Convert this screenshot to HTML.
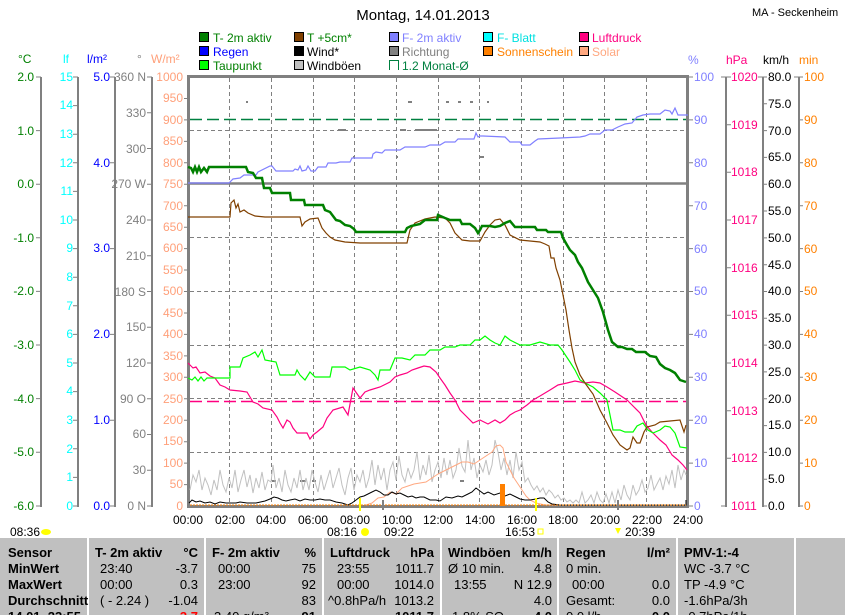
<!DOCTYPE html>
<html><head><meta charset="utf-8"><style>
html,body{margin:0;padding:0;background:#fff;width:845px;height:615px;overflow:hidden}
svg{display:block;font-family:"Liberation Sans",sans-serif;font-size:12px}
</style></head><body>
<svg width="845" height="615" viewBox="0 0 845 615" xmlns="http://www.w3.org/2000/svg">
<text x="423" y="20" text-anchor="middle" font-size="15">Montag, 14.01.2013</text>
<text x="752" y="16" font-size="11">MA - Seckenheim</text>

<g font-size="12" stroke="#000" stroke-width="1">
<rect x="199.5" y="32.5" width="9" height="9" fill="#008000"/>
<rect x="199.5" y="46.5" width="9" height="9" fill="#0000ff"/>
<rect x="199.5" y="60.5" width="9" height="9" fill="#00ff00"/>
<rect x="294.5" y="32.5" width="9" height="9" fill="#804000"/>
<rect x="294.5" y="46.5" width="9" height="9" fill="#000"/>
<rect x="294.5" y="60.5" width="9" height="9" fill="#c0c0c0"/>
<rect x="389.5" y="32.5" width="9" height="9" fill="#8080ff"/>
<rect x="389.5" y="46.5" width="9" height="9" fill="#808080"/>
<path d="M389.5 70V60.5h9V70" fill="none" stroke="#008040"/>
<rect x="483.5" y="32.5" width="9" height="9" fill="#00ffff"/>
<rect x="483.5" y="46.5" width="9" height="9" fill="#ff8000"/>
<rect x="579.5" y="32.5" width="9" height="9" fill="#ff0080"/>
<rect x="579.5" y="46.5" width="9" height="9" fill="#ffa880"/>
</g>
<g font-size="12">
<text x="213" y="42" fill="#008000">T- 2m aktiv</text>
<text x="213" y="56" fill="#0000ff">Regen</text>
<text x="213" y="70" fill="#008000">Taupunkt</text>
<text x="307" y="42" fill="#008000">T +5cm*</text>
<text x="307" y="56" fill="#000">Wind*</text>
<text x="307" y="70" fill="#000">Windböen</text>
<text x="402" y="42" fill="#8080ff">F- 2m aktiv</text>
<text x="402" y="56" fill="#808080">Richtung</text>
<text x="402" y="70" fill="#008040">1.2 Monat-Ø</text>
<text x="497" y="42" fill="#00e0e0">F- Blatt</text>
<text x="497" y="56" fill="#ff8000">Sonnenschein</text>
<text x="592" y="42" fill="#ff0080">Luftdruck</text>
<text x="592" y="56" fill="#ffa880">Solar</text>
</g>

<g font-size="12">
<text x="18" y="63" fill="#008000">°C</text>
<text x="63" y="63" fill="#00ffff">lf</text>
<text x="87" y="63" fill="#0000ff">l/m²</text>
<text x="137" y="63" fill="#808080">°</text>
<text x="151" y="63" fill="#ffa07a">W/m²</text>
<text x="688" y="64" fill="#8080ff">%</text>
<text x="726" y="64" fill="#ff0080">hPa</text>
<text x="763" y="64" fill="#000">km/h</text>
<text x="799" y="64" fill="#ff8000">min</text>
</g>

<g stroke="#808080" stroke-width="2">
<line x1="41" y1="77" x2="41" y2="507"/>
<line x1="78" y1="77" x2="78" y2="507"/>
<line x1="115" y1="77" x2="115" y2="507"/>
<line x1="152" y1="77" x2="152" y2="507"/>
<line x1="726" y1="77" x2="726" y2="507"/>
<line x1="763" y1="77" x2="763" y2="507"/>
<line x1="799" y1="77" x2="799" y2="507"/>
</g>

<g fill="#008000" text-anchor="end">
<text x="34" y="81">2.0</text><text x="34" y="135">1.0</text><text x="34" y="188">0.0</text><text x="34" y="242">-1.0</text><text x="34" y="295">-2.0</text><text x="34" y="349">-3.0</text><text x="34" y="403">-4.0</text><text x="34" y="456">-5.0</text><text x="34" y="510">-6.0</text>
</g>
<path stroke="#808080" d="M36 77h5M36 130.6h5M36 184.2h5M36 237.8h5M36 291.4h5M36 345h5M36 398.6h5M36 452.2h5M36 506h5"/>
<g fill="#00ffff" text-anchor="end">
<text x="73" y="81">15</text><text x="73" y="109">14</text><text x="73" y="138">13</text><text x="73" y="167">12</text><text x="73" y="195">11</text><text x="73" y="224">10</text><text x="73" y="252">9</text><text x="73" y="281">8</text><text x="73" y="310">7</text><text x="73" y="338">6</text><text x="73" y="367">5</text><text x="73" y="395">4</text><text x="73" y="424">3</text><text x="73" y="453">2</text><text x="73" y="481">1</text><text x="73" y="510">0</text>
</g>
<path stroke="#808080" d="M73 77h5M73 105.6h5M73 134.2h5M73 162.8h5M73 191.4h5M73 220h5M73 248.6h5M73 277.2h5M73 305.8h5M73 334.4h5M73 363h5M73 391.6h5M73 420.2h5M73 448.8h5M73 477.4h5M73 506h5"/>
<g fill="#0000ff" text-anchor="end">
<text x="110" y="81">5.0</text><text x="110" y="167">4.0</text><text x="110" y="252">3.0</text><text x="110" y="338">2.0</text><text x="110" y="424">1.0</text><text x="110" y="510">0.0</text>
</g>
<path stroke="#808080" d="M110 77h5M110 162.8h5M110 248.6h5M110 334.4h5M110 420.2h5M110 506h5"/>
<g fill="#808080" text-anchor="end">
<text x="146" y="81">360 N</text><text x="146" y="117">330</text><text x="146" y="153">300</text><text x="146" y="188">270 W</text><text x="146" y="224">240</text><text x="146" y="260">210</text><text x="146" y="296">180 S</text><text x="146" y="331">150</text><text x="146" y="367">120</text><text x="146" y="403">90 O</text><text x="146" y="438">60</text><text x="146" y="474">30</text><text x="146" y="510">0 N</text>
</g>
<path stroke="#808080" d="M147 77h5M147 112.75h5M147 148.5h5M147 184.25h5M147 220h5M147 255.75h5M147 291.5h5M147 327.25h5M147 363h5M147 398.75h5M147 434.5h5M147 470.25h5M147 506h5"/>
<g fill="#ffa07a" text-anchor="end">
<text x="183" y="81">1000</text><text x="183" y="102">950</text><text x="183" y="124">900</text><text x="183" y="145">850</text><text x="183" y="167">800</text><text x="183" y="188">750</text><text x="183" y="210">700</text><text x="183" y="231">650</text><text x="183" y="252">600</text><text x="183" y="274">550</text><text x="183" y="295">500</text><text x="183" y="317">450</text><text x="183" y="338">400</text><text x="183" y="360">350</text><text x="183" y="381">300</text><text x="183" y="403">250</text><text x="183" y="424">200</text><text x="183" y="445">150</text><text x="183" y="467">100</text><text x="183" y="488">50</text><text x="183" y="510">0</text>
</g>
<path stroke="#808080" d="M184 98.5h4M184 119.9h4M184 141.4h4M184 162.8h4M184 184.2h4M184 205.7h4M184 227.2h4M184 248.6h4M184 270h4M184 291.5h4M184 313h4M184 334.4h4M184 355.9h4M184 377.3h4M184 398.8h4M184 420.2h4M184 441.7h4M184 463.1h4M184 484.6h4"/>

<g fill="#8080ff">
<text x="694" y="81">100</text><text x="694" y="124">90</text><text x="694" y="167">80</text><text x="694" y="210">70</text><text x="694" y="253">60</text><text x="694" y="295">50</text><text x="694" y="338">40</text><text x="694" y="381">30</text><text x="694" y="424">20</text><text x="694" y="467">10</text><text x="694" y="510">0</text>
</g>
<path stroke="#808080" d="M688 77h5M688 119.9h5M688 162.8h5M688 205.7h5M688 248.6h5M688 291.5h5M688 334.4h5M688 377.3h5M688 420.2h5M688 463.1h5M688 506h5"/>
<g fill="#ff0080">
<text x="731" y="81">1020</text><text x="731" y="129">1019</text><text x="731" y="176">1018</text><text x="731" y="224">1017</text><text x="731" y="272">1016</text><text x="731" y="319">1015</text><text x="731" y="367">1014</text><text x="731" y="415">1013</text><text x="731" y="462">1012</text><text x="731" y="510">1011</text>
</g>
<path stroke="#808080" d="M721 77h10M726 124.7h5M726 172.3h5M726 220h5M726 267.7h5M726 315.3h5M726 363h5M726 410.7h5M726 458.3h5M721 506h5"/>
<g fill="#000">
<text x="768" y="81">80.0</text><text x="768" y="108">75.0</text><text x="768" y="135">70.0</text><text x="768" y="161">65.0</text><text x="768" y="188">60.0</text><text x="768" y="215">55.0</text><text x="768" y="242">50.0</text><text x="768" y="269">45.0</text><text x="768" y="295">40.0</text><text x="768" y="322">35.0</text><text x="768" y="349">30.0</text><text x="768" y="376">25.0</text><text x="768" y="403">20.0</text><text x="768" y="429">15.0</text><text x="768" y="456">10.0</text><text x="768" y="483">5.0</text><text x="768" y="510">0.0</text>
</g>
<path stroke="#808080" d="M758 77h9M763 103.8h4M763 130.6h4M763 157.4h4M763 184.2h4M763 211h4M763 237.9h4M763 264.7h4M763 291.5h4M763 318.3h4M763 345.1h4M763 371.9h4M763 398.8h4M763 425.6h4M763 452.4h4M763 479.2h4M763 506h4"/>
<g fill="#ff8000">
<text x="804" y="81">100</text><text x="804" y="124">90</text><text x="804" y="167">80</text><text x="804" y="210">70</text><text x="804" y="253">60</text><text x="804" y="295">50</text><text x="804" y="338">40</text><text x="804" y="381">30</text><text x="804" y="424">20</text><text x="804" y="467">10</text><text x="804" y="510">0</text>
</g>
<path stroke="#808080" d="M794 77h9M799 119.9h4M799 162.8h4M799 205.7h4M799 248.6h4M799 291.5h4M799 334.4h4M799 377.3h4M799 420.2h4M799 463.1h4M799 506h4"/>

<g stroke="#808080" stroke-dasharray="4,3" stroke-width="1">
<path d="M229.5 78V505M271.5 78V505M313.5 78V505M354.5 78V505M396.5 78V505M438.5 78V505M479.5 78V505M521.5 78V505M563.5 78V505M604.5 78V505M646.5 78V505"/>
<path d="M190 130.5H687M190 237.5H687M190 291.5H687M190 345.5H687M190 398.5H687M190 452.5H687"/>
</g>
<line x1="190" y1="183.5" x2="687" y2="183.5" stroke="#808080" stroke-width="2.5"/>
<line x1="190" y1="119.5" x2="687" y2="119.5" stroke="#008040" stroke-dasharray="12,5" stroke-width="1.5"/>
<line x1="190" y1="401.5" x2="687" y2="401.5" stroke="#ff0080" stroke-dasharray="12,5" stroke-width="1.5"/>
<rect x="188.5" y="76.5" width="499" height="430" fill="none" stroke="#808080" stroke-width="3"/>

<g fill="#808080">
<rect x="246" y="101" width="2" height="2"/><rect x="408" y="101" width="4" height="2"/><rect x="446" y="101" width="3" height="2"/><rect x="458" y="101" width="3" height="2"/><rect x="470" y="101" width="3" height="2"/><rect x="487" y="101" width="2" height="2"/>
<rect x="338" y="129" width="8" height="2"/><rect x="400" y="129" width="6" height="2"/><rect x="415" y="129" width="22" height="2"/>
<rect x="353" y="156" width="2" height="2"/><rect x="396" y="156" width="2" height="2"/><rect x="480" y="156" width="4" height="2"/>
<rect x="272" y="480" width="4" height="2"/><rect x="300" y="480" width="6" height="2"/><rect x="312" y="480" width="4" height="2"/><rect x="460" y="480" width="4" height="2"/>
</g>

<polyline fill="none" stroke="#c0c0c0" stroke-width="1" points="190,490 193,475 196,482 199,470 202,490 205,478 208,485 211,495 214,480 217,490 220,470 223,485 226,492 229,478 232,488 235,470 238,492 241,480 244,470 247,487 250,475 253,493 256,478 259,488 262,472 265,490 268,480 271,482 273,465 276,488 279,478 282,492 285,470 288,485 291,492 294,478 297,488 300,470 303,490 306,478 309,490 312,470 315,482 318,492 321,475 324,490 327,480 330,470 333,488 336,478 339,468 342,485 345,495 348,478 351,468 354,490 357,475 360,482 363,470 366,488 369,478 372,460 375,485 378,465 381,480 384,468 387,490 390,470 393,462 396,480 399,456 402,475 405,482 408,468 411,478 414,470 417,452 420,480 423,465 426,475 429,455 432,482 435,470 438,462 441,478 444,458 447,475 450,460 453,478 456,470 459,448 462,466 465,472 468,440 471,470 474,458 477,478 480,465 483,472 486,460 489,475 492,465 495,440 498,452 501,470 504,458 507,475 510,460 513,478 516,452 519,470 522,462 525,482 528,478 531,485 534,490 537,486 540,492 543,488 546,495 549,490 552,493 555,498 558,495 561,500 564,498 567,502 570,500 573,503 576,500 579,503 582,492 585,503 588,500 591,495 594,503 597,492 600,500 603,503 606,494 609,503 612,492 615,503 618,490 621,500 624,485 627,495 630,500 633,485 636,495 639,490 642,480 645,492 648,488 651,475 654,490 657,484 660,478 663,490 666,476 669,484 672,470 675,488 678,465 681,480 684,470 686,475"/>

<polyline fill="none" stroke="#ffa880" stroke-width="1" points="366,505 372,503 378,498 384,497 390,492 396,494 402,488 408,486 414,484 420,483 426,482 432,478 438,474 444,471 450,468 456,465 462,462 468,462 474,464 480,460 486,456 492,452 496,446 500,445 503,448 506,462 510,470 514,478 518,484 522,490 526,496 530,500 536,503 545,505 556,505"/>
<polyline fill="none" stroke="#000" stroke-width="1" points="189,503 192,500 196,502 200,501 205,503 210,502 215,504 220,502 226,503 230,503 236,503 240,502 247,503 256,503 265,501 270,499 274,497 278,498 282,500 286,501 290,500 295,499 300,501 305,499 310,500 315,500 320,499 325,500 330,500 336,502 342,503 348,505 352,503 356,500 360,497 364,496 368,494 372,492 376,490 380,492 384,495 388,495 392,492 396,494 400,493 404,495 408,497 412,496 416,498 420,497 424,497 430,500 436,500 440,501 446,497 452,498 458,496 462,497 468,494 472,492 476,488 480,491 484,494 488,492 494,495 500,493 505,496 510,494 516,497 520,499 525,500 530,500 536,499 540,498 544,498 548,502 552,504 560,505 580,505 686,505 686,500"/>
<rect x="500" y="484" width="5" height="22" fill="#ff8000"/>
<line x1="190" y1="505" x2="686" y2="505" stroke="#ff8000" stroke-width="1" stroke-dasharray="2,1"/>

<polyline fill="none" stroke="#ff0080" stroke-width="1.2" points="188,363 193,368 196,367 200,373 205,372 210,376 215,378 220,385 225,387 230,390 240,391 247,392 253,402 258,404 263,408 272,410 277,417 280,423 283,428 287,420 290,422 293,428 297,433 307,433 310,439 313,435 317,432 323,427 327,418 333,410 343,407 348,415 353,388 360,398 365,392 370,390 380,387 390,382 395,377 400,375 407,373 412,370 418,368 424,366 430,367 436,372 440,378 445,385 450,393 455,400 460,410 466,416 473,423 480,420 488,424 495,420 500,423 505,420 510,415 515,412 520,410 527,405 533,400 540,396 550,390 558,385 567,383 575,381 585,383 593,382 600,383 607,387 615,392 621,396 627,400 634,407 640,413 646,425 652,432 660,440 666,445 672,455 678,460 683,465 687,470"/>
<polyline fill="none" stroke="#00ff00" stroke-width="1.2" points="188,378 192,380 195,377 198,381 201,377 204,381 207,378 210,378 230,378 230,367 240,367 243,358 250,355 255,352 258,357 262,350 265,360 276,362 280,375 295,375 297,370 300,375 305,380 310,372 315,377 330,377 332,367 345,367 350,370 360,367 370,370 375,375 378,380 380,370 390,370 395,358 402,358 410,360 415,355 425,355 430,350 440,350 445,347 455,347 460,345 470,345 475,340 480,340 485,336 490,340 495,343 500,345 505,336 510,340 520,345 530,345 540,342 550,345 558,345 562,350 566,356 570,362 575,370 580,380 587,384 593,387 600,393 607,400 610,415 613,430 620,430 625,432 633,432 637,426 643,423 648,430 653,433 660,430 665,426 670,427 675,433 680,447 687,448"/>
<polyline fill="none" stroke="#804000" stroke-width="1.2" points="188,217 230,217 231,203 234,200 236,208 238,204 240,212 244,210 248,213 255,216 265,217 300,217 302,226 305,222 310,219 318,218 322,228 326,233 330,237 335,240 345,242 360,243 407,243 410,230 415,223 425,219 435,217 445,218 450,223 455,233 462,240 470,241 480,241 485,232 490,225 495,220 500,219 505,225 510,235 520,240 540,242 545,244 549,246 551,258 554,258 556,268 560,280 563,295 566,310 569,330 572,348 575,362 580,375 585,383 590,390 593,394 600,410 607,423 613,435 620,445 627,450 630,448 633,437 637,443 640,443 644,432 647,427 655,425 660,422 670,421 680,420 684,432 686,425"/>
<polyline fill="none" stroke="#8080ff" stroke-width="1.2" points="188,183 229,183 233,179 240,178 244,175 256,175 258,172 270,166 272,166 276,171 293,171 295,169 298,170 300,166 302,171 306,170 308,166 311,171 315,171 318,167 326,167 328,163 336,163 340,162 350,162 352,158 372,158 373,154 376,152 382,153 385,150 400,150 405,147 413,147 425,147 430,145 440,145 445,142 455,142 458,139 474,139 476,133 478,137 480,136 483,136 505,137 510,142 520,142 522,145 530,145 535,141 538,139 560,138 580,137 585,136 590,134 600,134 605,130 612,130 618,127 625,124 632,123 637,117 643,115 650,114 660,114 665,110 670,111 672,114 675,108 678,115 688,115"/>
<polyline fill="none" stroke="#008000" stroke-width="2.5" points="188,167 191,168 193,172 195,167 197,172 199,167 201,172 204,168 207,172 209,167 212,167 246,167 248,172 253,173 256,178 262,178 264,188 270,188 272,193 290,193 291,200 304,200 305,205 323,205 325,210 330,212 336,220 340,221 345,225 350,226 354,229 356,232 405,232 407,228 411,226 420,224 425,220 437,220 438,215 445,218 450,220 460,220 462,224 470,224 475,228 478,233 480,230 482,226 490,226 495,227 500,226 505,223 510,221 515,227 535,227 537,230 546,230 548,232 561,232 563,238 567,245 570,250 575,255 578,262 582,268 585,275 588,282 593,290 598,298 603,312 608,330 612,342 618,347 622,347 627,349 632,349 636,352 645,352 650,356 656,357 660,364 665,368 670,370 675,373 680,380 686,382"/>

<rect x="359" y="498" width="2" height="13" fill="#ffff00"/>
<rect x="535" y="498" width="2" height="13" fill="#ffff00"/>
<rect x="382" y="500" width="2" height="10" fill="#808080"/>
<rect x="617" y="500" width="2" height="10" fill="#808080"/>

<g text-anchor="middle" fill="#000">
<text x="188" y="524">00:00</text><text x="230" y="524">02:00</text><text x="271" y="524">04:00</text><text x="313" y="524">06:00</text><text x="355" y="524">08:00</text><text x="397" y="524">10:00</text><text x="438" y="524">12:00</text><text x="480" y="524">14:00</text><text x="522" y="524">16:00</text><text x="563" y="524">18:00</text><text x="605" y="524">20:00</text><text x="647" y="524">22:00</text><text x="688" y="524">24:00</text>
</g>
<text x="10" y="536">08:36</text>
<ellipse cx="46" cy="532" rx="5" ry="3" fill="#ffff00"/>
<text x="327" y="536">08:16</text>
<circle cx="365" cy="532" r="4" fill="#ffff00"/>
<text x="384" y="536">09:22</text>
<text x="505" y="536">16:53</text>
<rect x="538" y="529" width="5" height="5" fill="none" stroke="#ffff00"/>
<text x="625" y="536">20:39</text>
<path d="M615 528l3 6 3-6z" fill="#ffff00"/>

<rect x="0" y="538" width="845" height="77" fill="#c0c0c0"/>
<g stroke="#fff" stroke-width="2">
<line x1="88" y1="538" x2="88" y2="615"/><line x1="205" y1="538" x2="205" y2="615"/><line x1="323" y1="538" x2="323" y2="615"/><line x1="441" y1="538" x2="441" y2="615"/><line x1="558" y1="538" x2="558" y2="615"/><line x1="677" y1="538" x2="677" y2="615"/><line x1="795" y1="538" x2="795" y2="615"/>
</g>
<g font-size="13" fill="#000">
<g font-weight="bold">
<text x="8" y="557">Sensor</text><text x="8" y="573">MinWert</text><text x="8" y="589">MaxWert</text><text x="8" y="605">Durchschnitt</text><text x="8" y="621">14.01. 23:55</text>
<text x="95" y="557">T- 2m aktiv</text><text x="198" y="557" text-anchor="end">°C</text>
<text x="212" y="557">F- 2m aktiv</text><text x="316" y="557" text-anchor="end">%</text>
<text x="330" y="557">Luftdruck</text><text x="434" y="557" text-anchor="end">hPa</text>
<text x="448" y="557">Windböen</text><text x="552" y="557" text-anchor="end">km/h</text>
<text x="566" y="557">Regen</text><text x="670" y="557" text-anchor="end">l/m²</text>
<text x="684" y="557">PMV-1:-4</text>
</g>
<text x="100" y="573">23:40</text><text x="198" y="573" text-anchor="end">-3.7</text>
<text x="100" y="589">00:00</text><text x="198" y="589" text-anchor="end">0.3</text>
<text x="100" y="605">( - 2.24 )</text><text x="198" y="605" text-anchor="end">-1.04</text>
<text x="198" y="621" text-anchor="end" fill="#ff0000" font-weight="bold">-3.7</text>
<text x="218" y="573">00:00</text><text x="316" y="573" text-anchor="end">75</text>
<text x="218" y="589">23:00</text><text x="316" y="589" text-anchor="end">92</text>
<text x="316" y="605" text-anchor="end">83</text>
<text x="214" y="621">3.40 g/m³</text><text x="316" y="621" text-anchor="end" font-weight="bold">91</text>
<text x="337" y="573">23:55</text><text x="434" y="573" text-anchor="end">1011.7</text>
<text x="337" y="589">00:00</text><text x="434" y="589" text-anchor="end">1014.0</text>
<text x="328" y="605">^0.8hPa/h</text><text x="434" y="605" text-anchor="end">1013.2</text>
<text x="434" y="621" text-anchor="end" font-weight="bold">1011.7</text>
<text x="448" y="573">Ø 10 min.</text><text x="552" y="573" text-anchor="end">4.8</text>
<text x="454" y="589">13:55</text><text x="552" y="589" text-anchor="end">N 12.9</text>
<text x="552" y="605" text-anchor="end">4.0</text>
<text x="452" y="621">1.8% SO</text><text x="552" y="621" text-anchor="end" font-weight="bold">4.0</text>
<text x="566" y="573">0 min.</text>
<text x="572" y="589">00:00</text><text x="670" y="589" text-anchor="end">0.0</text>
<text x="566" y="605">Gesamt:</text><text x="670" y="605" text-anchor="end">0.0</text>
<text x="566" y="621">0.0 l/h</text><text x="670" y="621" text-anchor="end" font-weight="bold">0.0</text>
<text x="684" y="573">WC -3.7 °C</text>
<text x="684" y="589">TP -4.9 °C</text>
<text x="684" y="605">-1.6hPa/3h</text>
<text x="684" y="621">-0.7hPa/1h</text>
</g>
</svg>
</body></html>
